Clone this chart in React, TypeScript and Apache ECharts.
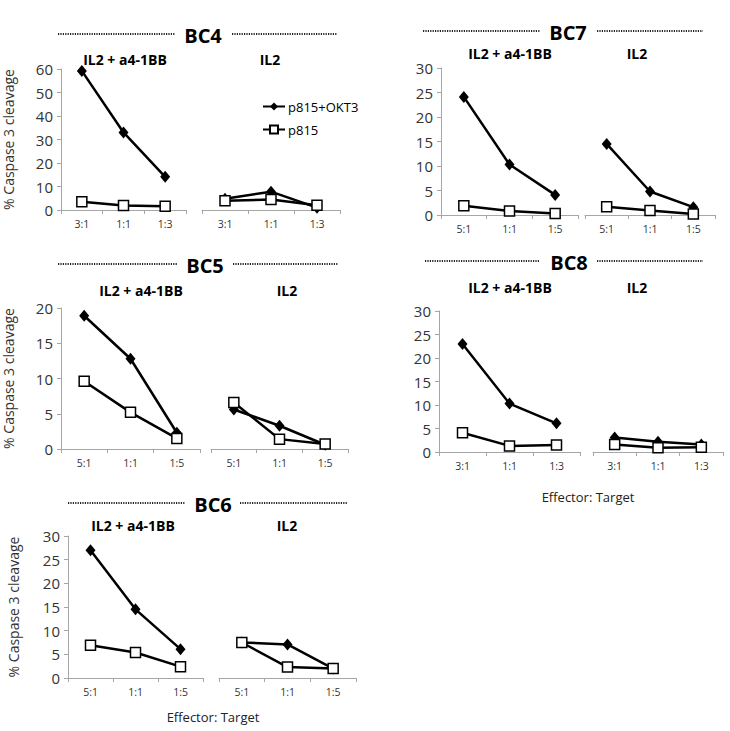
import React, { useEffect, useRef } from "react";
import * as echarts from "echarts";

// ---------- data ----------
const panelNames = ["BC4", "BC7", "BC5", "BC8", "BC6"];
const conditionNames = ["IL2 + a4-1BB", "IL2"];
const seriesNames = ["p815+OKT3", "p815"];

const ratios31 = ["3:1", "1:1", "1:3"];
const ratios51 = ["5:1", "1:1", "1:5"];

const bc4AntiOkt3 = [59.2, 33.0, 14.1];
const bc4AntiP815 = [3.5, 1.9, 1.6];
const bc4Il2Okt3 = [4.8, 7.8, 1.0];
const bc4Il2P815 = [3.9, 4.5, 2.0];

const bc7AntiOkt3 = [24.1, 10.3, 4.1];
const bc7AntiP815 = [1.9, 0.8, 0.3];
const bc7Il2Okt3 = [14.5, 4.8, 1.6];
const bc7Il2P815 = [1.7, 0.9, 0.2];

const bc5AntiOkt3 = [18.9, 12.8, 2.3];
const bc5AntiP815 = [9.6, 5.2, 1.5];
const bc5Il2Okt3 = [5.6, 3.3, 0.6];
const bc5Il2P815 = [6.6, 1.4, 0.7];

const bc8AntiOkt3 = [23.0, 10.3, 6.1];
const bc8AntiP815 = [4.1, 1.3, 1.5];
const bc8Il2Okt3 = [3.1, 2.2, 1.6];
const bc8Il2P815 = [1.6, 0.9, 1.0];

const bc6AntiOkt3 = [27.0, 14.5, 6.1];
const bc6AntiP815 = [6.9, 5.4, 2.4];
const bc6Il2Okt3 = [7.5, 7.1, 2.0];
const bc6Il2P815 = [7.5, 2.3, 2.0];

const yMax = [60, 30, 20, 30, 30];
const yStep = [10, 5, 5, 5, 5];
const yAxisTitle = "% Caspase 3 cleavage";
const xAxisTitle = "Effector: Target";

// ---------- layout ----------
const FONT = '"Open Sans", sans-serif';
const AXIS_COLOR = "#a6a6a6";
const LABEL_COLOR = "#333333";

type Panel = {
  cats: string[];
  data: number[][];
  top: number;
  height: number;
  left: [number, number];
  right: [number, number];
  title: { x: number; y: number; l1: [number, number]; l2: [number, number] };
  sub: [number, number, number];
  yName: number | null;
};

const panels: Panel[] = [
  {
    cats: ratios31,
    data: [bc4AntiOkt3, bc4AntiP815, bc4Il2Okt3, bc4Il2P815],
    top: 69, height: 141,
    left: [59, 127], right: [202, 138],
    title: { x: 203, y: 35, l1: [58, 175], l2: [232, 337] },
    sub: [125, 270, 59], yName: 46,
  },
  {
    cats: ratios51,
    data: [bc7AntiOkt3, bc7AntiP815, bc7Il2Okt3, bc7Il2P815],
    top: 68, height: 147,
    left: [441, 137], right: [585, 130],
    title: { x: 568, y: 32, l1: [423, 540], l2: [597, 703] },
    sub: [510, 637, 53], yName: null,
  },
  {
    cats: ratios51,
    data: [bc5AntiOkt3, bc5AntiP815, bc5Il2Okt3, bc5Il2P815],
    top: 308, height: 141,
    left: [59, 141], right: [211, 137],
    title: { x: 205, y: 265, l1: [58, 177], l2: [233, 338] },
    sub: [141, 287, 290], yName: 46,
  },
  {
    cats: ratios31,
    data: [bc8AntiOkt3, bc8AntiP815, bc8Il2Okt3, bc8Il2P815],
    top: 311, height: 141,
    left: [439, 141], right: [593, 130],
    title: { x: 569, y: 262, l1: [425, 540], l2: [597, 703] },
    sub: [510, 637, 287], yName: null,
  },
  {
    cats: ratios51,
    data: [bc6AntiOkt3, bc6AntiP815, bc6Il2Okt3, bc6Il2P815],
    top: 536, height: 142,
    left: [68, 135], right: [219, 137],
    title: { x: 213, y: 504, l1: [68, 185], l2: [240, 348] },
    sub: [133, 287, 525], yName: 48,
  },
];

function buildOption() {
  const grid: any[] = [];
  const xAxis: any[] = [];
  const yAxis: any[] = [];
  const series: any[] = [];
  const graphic: any[] = [];

  panels.forEach((p, pi) => {
    [p.left, p.right].forEach((g, side) => {
      const gi = grid.length;
      grid.push({ left: g[0], top: p.top, width: g[1], height: p.height, containLabel: false });
      xAxis.push({
        type: "category",
        gridIndex: gi,
        data: p.cats,
        boundaryGap: true,
        axisLine: { show: true, lineStyle: { color: AXIS_COLOR, width: 1 } },
        axisTick: { show: true, length: 4, lineStyle: { color: AXIS_COLOR } },
        axisLabel: { fontSize: 10.5, color: LABEL_COLOR, fontFamily: FONT, margin: 8 },
        splitLine: { show: false },
      });
      const showY = side === 0;
      yAxis.push({
        type: "value",
        gridIndex: gi,
        min: 0,
        max: yMax[pi],
        interval: yStep[pi],
        show: showY,
        axisLine: { show: true, lineStyle: { color: AXIS_COLOR, width: 1 } },
        axisTick: { show: true, length: 4, lineStyle: { color: AXIS_COLOR } },
        axisLabel: { fontSize: 15, color: LABEL_COLOR, fontFamily: FONT, margin: 8 },
        splitLine: { show: false },
        name: showY && p.yName !== null ? yAxisTitle : "",
        nameLocation: "middle",
        nameGap: p.yName ?? 0,
        nameTextStyle: { fontSize: 14, color: LABEL_COLOR, fontFamily: FONT },
      });
      const okt3 = p.data[side * 2];
      const p815 = p.data[side * 2 + 1];
      series.push({
        type: "line",
        name: seriesNames[0],
        xAxisIndex: gi,
        yAxisIndex: gi,
        data: okt3,
        symbol: "diamond",
        symbolSize: [10, 12],
        color: "#000",
        lineStyle: { color: "#000", width: 2.5 },
        itemStyle: { color: "#000", borderColor: "#000", borderWidth: 0 },
        z: 2,
      });
      series.push({
        type: "line",
        name: seriesNames[1],
        xAxisIndex: gi,
        yAxisIndex: gi,
        data: p815,
        symbol: "rect",
        symbolSize: 10,
        color: "#000",
        lineStyle: { color: "#000", width: 2.5 },
        itemStyle: { color: "#fff", borderColor: "#000", borderWidth: 1.5 },
        z: 3,
      });
    });

    graphic.push({
      type: "text",
      style: {
        text: panelNames[pi], x: p.title.x, y: p.title.y,
        align: "center", verticalAlign: "middle",
        fontSize: 20, fontWeight: "bold", fontFamily: FONT, fill: "#000",
      },
    });
    [p.title.l1, p.title.l2].forEach((l) => {
      graphic.push({
        type: "line",
        shape: { x1: l[0], y1: p.title.y - 1, x2: l[1], y2: p.title.y - 1 },
        style: { stroke: "#222", lineWidth: 1.8, lineDash: [1.2, 1.2] },
      });
    });
    [p.sub[0], p.sub[1]].forEach((x, k) => {
      graphic.push({
        type: "text",
        style: {
          text: conditionNames[k], x, y: p.sub[2],
          align: "center", verticalAlign: "middle",
          fontSize: 14, fontWeight: "bold", fontFamily: FONT, fill: "#000",
        },
      });
    });
  });

  [[588, 497], [213, 717]].forEach(([x, y]) => {
    graphic.push({
      type: "text",
      style: {
        text: xAxisTitle, x, y, align: "center", verticalAlign: "middle",
        fontSize: 13, fontFamily: FONT, fill: "#222",
      },
    });
  });

  return {
    animation: false,
    backgroundColor: "#fff",
    textStyle: { fontFamily: FONT },
    grid,
    xAxis,
    yAxis,
    series,
    graphic,
    legend: {
      data: seriesNames,
      orient: "vertical",
      left: 257,
      top: 95,
      itemWidth: 22,
      itemHeight: 10,
      itemGap: 10,
      textStyle: { fontSize: 13, color: "#000", fontFamily: FONT, padding: [0, 0, 0, -2] },
      selectedMode: false,
    },
  };
}

export default function App() {
  const ref = useRef<HTMLDivElement>(null);
  useEffect(() => {
    if (!ref.current) return;
    const chart = echarts.init(ref.current, null, { renderer: "svg" });
    chart.setOption(buildOption() as any);
    return () => chart.dispose();
  }, []);
  return (
    <div
      ref={ref}
      style={{ position: "absolute", left: 0, top: 0, width: 730, height: 731, background: "#fff" }}
    />
  );
}
